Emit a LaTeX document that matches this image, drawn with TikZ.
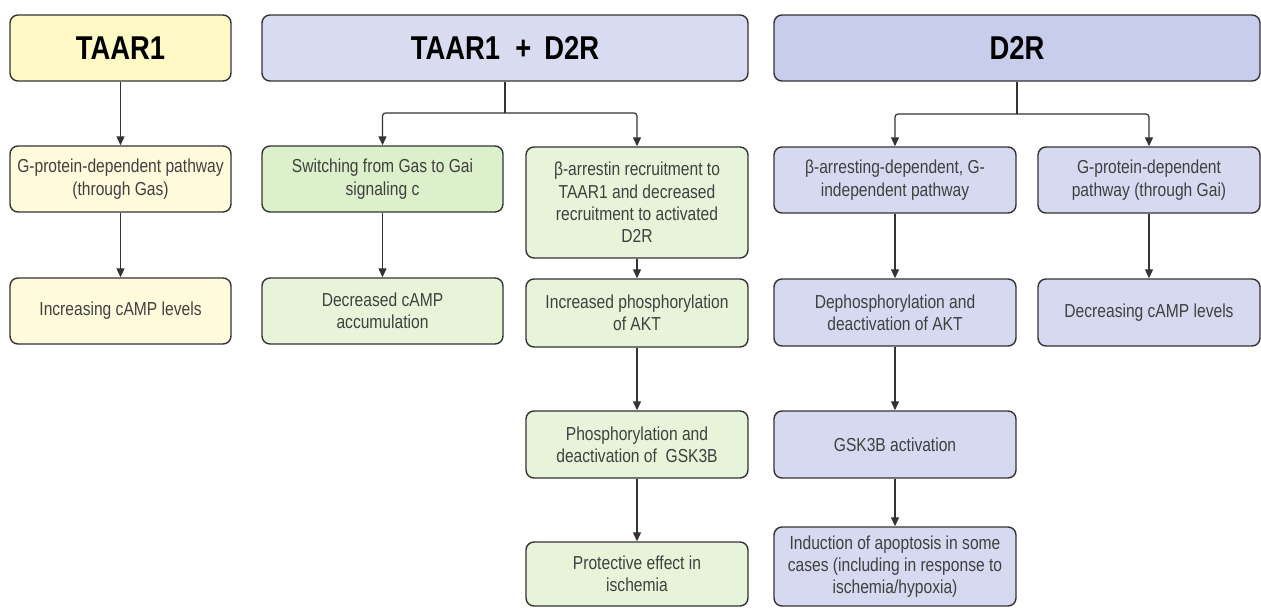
\documentclass[tikz,border=0pt]{standalone}
\usepackage{fontspec}
\setmainfont{Liberation Sans}[FakeStretch=0.83]
\usetikzlibrary{arrows.meta}
\definecolor{yelhead}{HTML}{FFF9C6}
\definecolor{yelbox}{HTML}{FFFBDC}
\definecolor{grnhead}{HTML}{DCF0CB}
\definecolor{grnbox}{HTML}{E7F4DA}
\definecolor{bluhead}{HTML}{C9CDEC}
\definecolor{blumix}{HTML}{D9DBF0}
\definecolor{blubox}{HTML}{D6D9F0}
\definecolor{edge}{HTML}{333333}

\begin{document}
\begin{tikzpicture}[x=1pt,y=-1pt,
	box/.style={draw=edge,line width=1.4pt,rounded corners=8pt,align=center,inner sep=0pt,
		font=\fontsize{18.8}{22.3}\selectfont,text=black!75,minimum height=66pt},
	head/.style={box,font=\fontsize{33}{38}\selectfont\bfseries,text=black},
	arr/.style={-{Triangle[length=9pt,width=8pt]},line width=1.2pt,draw=edge}]
\useasboundingbox (0,0) rectangle (1261,608);
% headers
\node[head,fill=yelhead,minimum width=221pt] (taar) at (120.5,48) {TAAR1};
\node[head,fill=blumix,minimum width=486pt] (both) at (505,48) {TAAR1 \ + \,D2R};
\node[head,fill=bluhead,minimum width=486pt] (dtwo) at (1017,48) {D2R};
% TAAR1 column
\node[box,fill=yelbox,minimum width=221pt] (gs) at (120.5,179) {G-protein-dependent pathway\\(through Gas)};
\node[box,fill=yelbox,minimum width=221pt] (incr) at (120.5,311) {Increasing cAMP levels};
% TAAR1 + D2R columns
\node[box,fill=grnhead,minimum width=241pt] (switch) at (382.5,179) {Switching from Gas to Gai\\signaling c};
\node[box,fill=grnbox,minimum width=241pt] (decr) at (382.5,311) {Decreased cAMP\\accumulation};
\node[box,fill=grnbox,minimum width=222pt,minimum height=111pt] (barr) at (637,202.5)
	{β-arrestin recruitment to\\TAAR1 and decreased\\recruitment to activated\\D2R};
\node[box,fill=grnbox,minimum width=222pt,minimum height=68pt] (phos) at (637,313) {Increased phosphorylation\\of AKT};
\node[box,fill=grnbox,minimum width=222pt,minimum height=67pt] (gskd) at (637,444.5) {Phosphorylation and\\deactivation of \ GSK3B};
\node[box,fill=grnbox,minimum width=222pt,minimum height=64pt] (prot) at (637,574) {Protective effect in\\ischemia};
% D2R columns
\node[box,fill=blubox,minimum width=242pt] (bdep) at (895,180) {β-arresting-dependent, G-\\independent pathway};
\node[box,fill=blubox,minimum width=242pt,minimum height=67pt] (deph) at (895,312.5) {Dephosphorylation and\\deactivation of AKT};
\node[box,fill=blubox,minimum width=242pt,minimum height=67pt] (gska) at (895,444.5) {GSK3B activation};
\node[box,fill=blubox,minimum width=242pt,minimum height=79pt] (apop) at (895,566.5)
	{Induction of apoptosis in some\\cases (including in response to\\ischemia/hypoxia)};
\node[box,fill=blubox,minimum width=222pt] (gi) at (1149,180) {G-protein-dependent\\pathway (through Gai)};
\node[box,fill=blubox,minimum width=222pt,minimum height=67pt] (decr2) at (1149,312.5) {Decreasing cAMP levels};
% split points
\coordinate (bothsplit) at (505,113);
\coordinate (dtwosplit) at (1017,114);
% connectors
\draw[arr] (taar) -- (gs);
\draw[arr] (gs) -- (incr);
\draw[line width=1.2pt,draw=edge] (both) -- (bothsplit);
\draw[arr,rounded corners=3pt] (bothsplit) -| (switch);
\draw[arr,rounded corners=3pt] (bothsplit) -| (barr);
\draw[arr] (switch) -- (decr);
\draw[arr] (barr) -- (phos);
\draw[arr] (phos) -- (gskd);
\draw[arr] (gskd) -- (prot);
\draw[line width=1.2pt,draw=edge] (dtwo) -- (dtwosplit);
\draw[arr,rounded corners=3pt] (dtwosplit) -| (bdep);
\draw[arr,rounded corners=3pt] (dtwosplit) -| (gi);
\draw[arr] (bdep) -- (deph);
\draw[arr] (deph) -- (gska);
\draw[arr] (gska) -- (apop);
\draw[arr] (gi) -- (decr2);
\end{tikzpicture}
\end{document}
